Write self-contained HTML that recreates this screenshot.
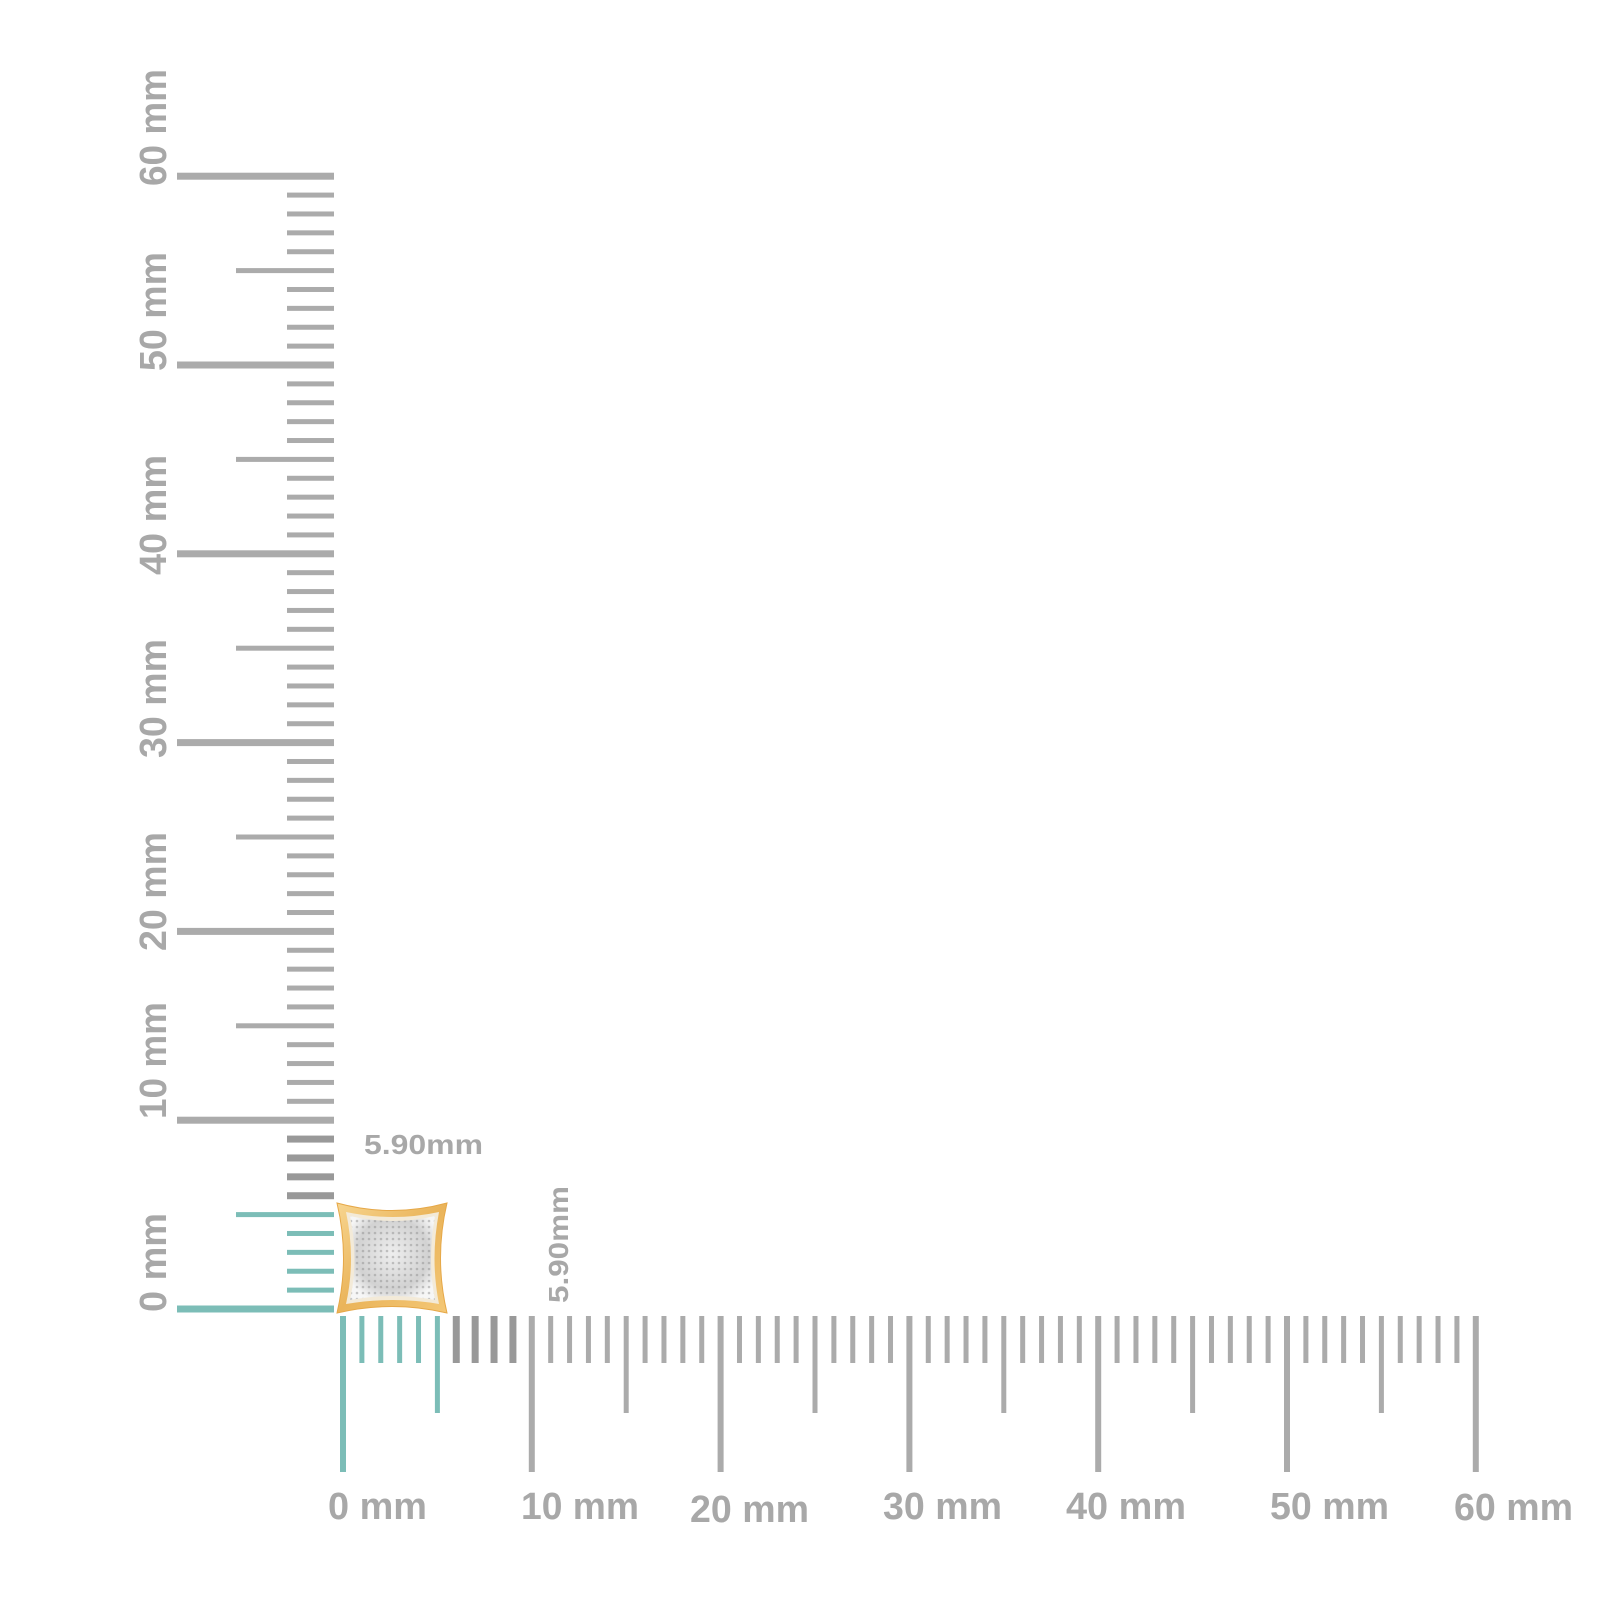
<!DOCTYPE html>
<html><head><meta charset="utf-8"><style>
html,body{margin:0;padding:0;background:#fff;width:1600px;height:1600px;overflow:hidden}
svg{display:block}
text{font-family:"Liberation Sans",Arial,sans-serif;font-weight:bold;fill:#a8a8a8}
</style></head><body>
<svg id="s" width="1600" height="1600" viewBox="0 0 1600 1600" xmlns="http://www.w3.org/2000/svg">
<defs>
<linearGradient id="gold" x1="0" y1="0" x2="1" y2="1">
<stop offset="0" stop-color="#f7d58f"/><stop offset="0.5" stop-color="#eab45a"/><stop offset="1" stop-color="#f4c877"/>
</linearGradient>
<radialGradient id="pave" cx="0.5" cy="0.45" r="0.6">
<stop offset="0" stop-color="#eeeeee"/><stop offset="0.7" stop-color="#d2d2d2"/><stop offset="1" stop-color="#f6f6f6"/>
</radialGradient>
<pattern id="dots" width="6" height="6" patternUnits="userSpaceOnUse">
<circle cx="3" cy="3" r="1.3" fill="#8a8a8a" opacity="0.45"/>
</pattern>
</defs>
<g id="ticks"></g>
<path d="M337,1203 Q392,1218 447,1203 Q434,1258 447,1313 Q392,1300 337,1313 Q350,1258 337,1203 Z" fill="url(#gold)" stroke="#e6a848" stroke-width="1"/>
<path d="M346,1212 Q393,1222 439,1212 Q430,1259 439,1304 Q393,1296 346,1304 Q356,1259 346,1212 Z" fill="#f3ead8"/>
<path d="M350,1216 Q393,1226 435,1216 Q427,1259 435,1300 Q393,1292 350,1300 Q359,1259 350,1216 Z" fill="url(#pave)"/>
<path d="M350,1216 Q393,1226 435,1216 Q427,1259 435,1300 Q393,1292 350,1300 Q359,1259 350,1216 Z" fill="url(#dots)"/>
<text x="364" y="1154" font-size="28" textLength="119" lengthAdjust="spacingAndGlyphs">5.90mm</text>
<text transform="translate(568,1303) rotate(-90)" x="0" y="0" font-size="28" textLength="117" lengthAdjust="spacingAndGlyphs">5.90mm</text>
<g font-size="38">
<text x="328" y="1519" textLength="99" lengthAdjust="spacingAndGlyphs">0 mm</text>
<text x="521" y="1519" textLength="118" lengthAdjust="spacingAndGlyphs">10 mm</text>
<text x="690" y="1522" textLength="119" lengthAdjust="spacingAndGlyphs">20 mm</text>
<text x="883" y="1519" textLength="119" lengthAdjust="spacingAndGlyphs">30 mm</text>
<text x="1066" y="1519" textLength="120" lengthAdjust="spacingAndGlyphs">40 mm</text>
<text x="1270" y="1519" textLength="119" lengthAdjust="spacingAndGlyphs">50 mm</text>
<text x="1454" y="1520" textLength="119" lengthAdjust="spacingAndGlyphs">60 mm</text>
<text transform="translate(166,1312) rotate(-90)" textLength="99" lengthAdjust="spacingAndGlyphs">0 mm</text>
<text transform="translate(166,1119) rotate(-90)" textLength="117" lengthAdjust="spacingAndGlyphs">10 mm</text>
<text transform="translate(166,951) rotate(-90)" textLength="119" lengthAdjust="spacingAndGlyphs">20 mm</text>
<text transform="translate(166,758) rotate(-90)" textLength="119" lengthAdjust="spacingAndGlyphs">30 mm</text>
<text transform="translate(166,575) rotate(-90)" textLength="120" lengthAdjust="spacingAndGlyphs">40 mm</text>
<text transform="translate(166,371) rotate(-90)" textLength="119" lengthAdjust="spacingAndGlyphs">50 mm</text>
<text transform="translate(166,186) rotate(-90)" textLength="117" lengthAdjust="spacingAndGlyphs">60 mm</text>
</g>
</svg>
<script>
(function(){
var g=document.getElementById('ticks'),h='';
var teal='#7cbdb7',grey='#ababab',dark='#999999';
var step=188.8/10;
for(var i=0;i<=60;i++){
  var y=1309-i*step, x=343+i*step;
  var c=i<=5?teal:(i<10?dark:grey);
  var major=i%10==0, half=i%5==0&&!major;
  var x1=major?177:(half?236:287), w=major?7:(half?5:(i>5&&i<10?7:5));
  h+='<rect x="'+x1+'" y="'+(y-w/2)+'" width="'+(334-x1)+'" height="'+w+'" fill="'+c+'"/>';
  var y2=major?1472:(half?1413:1363), wx=major?6:(half?5:(i>5&&i<10?7:5));
  h+='<rect x="'+(x-wx/2)+'" y="1316" width="'+wx+'" height="'+(y2-1316)+'" fill="'+c+'"/>';
}
g.innerHTML=h;
})();
</script>
</body></html>
